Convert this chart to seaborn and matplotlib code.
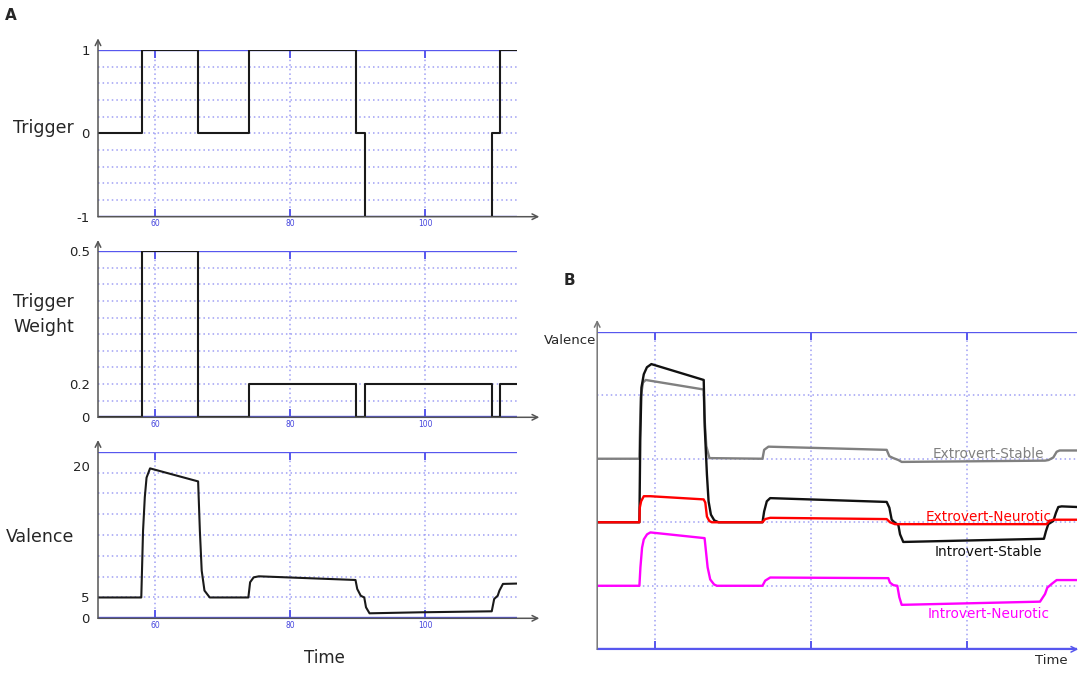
import numpy as np
import matplotlib
matplotlib.use("Agg")
import matplotlib.pyplot as plt
import seaborn as sns
from matplotlib.ticker import FixedLocator

sns.set_style("white")
plt.rcParams["font.family"] = ["DejaVu Sans"]

# ========== Data ==========
# Panel A, trigger signal (step changes)
trig_t = [51.5, 58.0, 66.4, 73.9, 89.8, 91.1, 110.0, 111.1, 113.6]
trig_v = [0, 1, 0, 1, 0, -1, 0, 1, 1]

# Panel A, trigger weight (step changes)
weight_t = [51.5, 58.0, 66.4, 73.9, 89.8, 91.1, 110.0, 111.1, 113.6]
weight_v = [0, 0.5, 0, 0.2, 0, 0.2, 0, 0.2, 0.2]

# Panel A, valence
val_t = [51.5, 57.92, 58.18, 58.44, 58.7, 59.22, 66.35, 66.61, 66.88, 67.29, 68.07,
         73.8, 74.06, 74.58, 75.36, 89.69, 89.95, 90.47, 90.99, 91.25, 91.77, 99.32,
         109.9, 110.26, 110.78, 111.04, 111.56, 113.6]
val_v = [5.0, 5.0, 12.6, 16.45, 18.7, 19.76, 18.27, 12.6, 8.07, 5.79, 5.0,
         5.0, 6.74, 7.3, 7.42, 7.0, 5.97, 5.2, 5.0, 2.64, 1.2, 1.44,
         1.68, 4.64, 5.2, 5.79, 6.55, 6.59]

# Panel B, four personality types (valence in grid units)
es_t = [52.64, 58.04, 58.2, 58.5, 58.85, 66.27, 66.35, 66.6, 67.0, 73.79, 74.0, 74.55,
        89.68, 90.02, 90.53, 91.17, 91.6, 109.94, 110.4, 111.0, 111.43, 111.8, 114.07]
es_v = [3.0, 3.0, 3.96, 4.2, 4.24, 4.09, 3.7, 3.2, 3.01, 3.0, 3.14, 3.19,
        3.14, 3.04, 3.01, 2.98, 2.95, 2.97, 2.98, 3.02, 3.11, 3.13, 3.13]

is_t = [52.64, 58.04, 58.15, 58.3, 58.6, 59.0, 59.57, 66.27, 66.4, 66.68, 66.89, 67.19,
        67.62, 68.17, 73.79, 74.0, 74.34, 74.77, 89.68, 90.02, 90.32, 90.75, 91.17,
        91.39, 91.8, 109.8, 110.06, 110.36, 111.0, 111.34, 111.64, 112.07, 114.07]
is_v = [2.0, 2.0, 3.3, 4.12, 4.33, 4.44, 4.49, 4.24, 3.5, 2.75, 2.33, 2.12,
        2.03, 2.0, 2.0, 2.17, 2.33, 2.38, 2.32, 2.23, 2.04, 1.99, 1.96,
        1.81, 1.69, 1.74, 1.86, 1.97, 2.02, 2.15, 2.24, 2.25, 2.24]

en_t = [52.64, 58.04, 58.09, 58.26, 58.6, 59.45, 66.26, 66.47, 66.68, 66.98, 67.3,
        73.79, 74.13, 74.77, 89.68, 90.1, 90.74, 110.15, 110.49, 111.0, 114.07]
en_v = [2.0, 2.0, 2.23, 2.33, 2.41, 2.41, 2.36, 2.31, 2.09, 2.02, 2.0,
        2.0, 2.05, 2.07, 2.05, 2.0, 1.97, 1.97, 2.02, 2.04, 2.04]

in_t = [52.64, 58.04, 58.17, 58.38, 58.6, 59.02, 59.45, 66.38, 66.55, 66.77, 67.1,
        67.6, 67.96, 73.79, 74.13, 74.77, 89.89, 90.1, 90.53, 91.04, 91.3, 91.6,
        109.3, 109.94, 110.23, 110.8, 111.43, 114.07]
in_v = [1.0, 1.0, 1.29, 1.6, 1.73, 1.81, 1.84, 1.75, 1.55, 1.29, 1.1,
        1.02, 1.0, 1.0, 1.08, 1.13, 1.12, 1.05, 1.01, 1.0, 0.82, 0.70,
        0.75, 0.87, 0.97, 1.03, 1.09, 1.09]

series_b = [
    ("Extrovert-Stable", es_t, es_v, "#808080", (102.7, 3.07)),
    ("Introvert-Stable", is_t, is_v, "#111111", (102.7, 1.53)),
    ("Extrovert-Neurotic", en_t, en_v, "#ff0000", (102.7, 2.08)),
    ("Introvert-Neurotic", in_t, in_v, "#ff00ff", (102.7, 0.56)),
]

# ========== Style ==========
BLUE = "#5757ee"
GRID = "#9f9ff4"
AXIS_GRAY = "#555555"
DOT = (0, (1, 2))
W, H = 1084, 677


def box(left, top, right, bottom):
    return [left / W, 1 - bottom / H, (right - left) / W, (bottom - top) / H]


def piecewise_scale(ax, vals, disp):
    fwd = lambda y: np.interp(y, vals, disp)
    inv = lambda d: np.interp(d, disp, vals)
    ax.set_yscale("function", functions=(fwd, inv))
    return inv


def decorate(ax, ylim, grid_y, yticks, ylabels, xlabels=True, arrow_top=1.07,
             arrow_right=1.054, xarrow_color=AXIS_GRAY, yarrow_color=AXIS_GRAY):
    ax.set_ylim(*ylim)
    for s in ax.spines.values():
        s.set_visible(False)
    ax.set_xticks([60, 80, 100])
    ax.set_xticklabels(["60", "80", "100"] if xlabels else [])
    ax.tick_params(axis="x", which="major", direction="in", top=True, bottom=True,
                   length=6, width=1.4, color=BLUE, labelsize=5.5, labelcolor="#4444dd", pad=2)
    ax.set_yticks(yticks)
    ax.set_yticklabels(ylabels)
    ax.yaxis.set_minor_locator(FixedLocator(grid_y))
    ax.yaxis.remove_overlapping_locs = False
    ax.tick_params(axis="y", which="both", length=0, labelsize=9.5, labelcolor="#222222", pad=6)
    ax.grid(which="major", axis="x", color=GRID, linestyle=DOT, lw=1.1)
    ax.grid(which="minor", axis="y", color=GRID, linestyle=DOT, lw=1.1)
    ax.set_axisbelow(True)
    ax.axhline(ylim[1], color=BLUE, lw=1.7, zorder=1)
    ax.annotate("", xy=(arrow_right, 0), xytext=(0, 0), xycoords="axes fraction",
                arrowprops=dict(arrowstyle="->", color=xarrow_color, lw=1.1,
                                shrinkA=0, shrinkB=0), annotation_clip=False)
    ax.axhline(ylim[0], color=BLUE, lw=1.7, zorder=1.5)
    ax.annotate("", xy=(0, arrow_top), xytext=(0, 0), xycoords="axes fraction",
                arrowprops=dict(arrowstyle="->", color=yarrow_color, lw=1.1,
                                shrinkA=0, shrinkB=0), annotation_clip=False)
    ax.set_xlabel("")
    ax.set_ylabel("")


fig = plt.figure(figsize=(W / 100, H / 100), dpi=100)

# ---------- Panel A: trigger ----------
ax1 = fig.add_axes(box(98, 50, 516.7, 216.7))
sns.lineplot(x=trig_t, y=trig_v, ax=ax1, color="#1a1a1a", lw=1.5,
             drawstyle="steps-post", estimator=None, sort=False, zorder=3)
ax1.set_xlim(51.5, 113.6)
decorate(ax1, (-1, 1), np.arange(-0.8, 0.81, 0.2), [1, 0, -1], ["1", "0", "-1"])

# ---------- Panel A: trigger weight ----------
ax2 = fig.add_axes(box(98, 251, 516.7, 417.3))
inv2 = piecewise_scale(ax2, [-1, 0, 0.2, 0.5, 1.5], [-10, 0, 2, 10, 36.67])
sns.lineplot(x=weight_t, y=weight_v, ax=ax2, color="#1a1a1a", lw=1.5,
             drawstyle="steps-post", estimator=None, sort=False, zorder=3)
ax2.set_xlim(51.5, 113.6)
decorate(ax2, (0, 0.5), inv2(np.arange(1, 10)), [0.5, 0.2, 0], ["0.5", "0.2", "0"],
         arrow_top=1.066)

# ---------- Panel A: valence ----------
ax3 = fig.add_axes(box(98, 451.7, 516.7, 618.3))
inv3 = piecewise_scale(ax3, [-20, 0, 5, 20, 60], [-4, 0, 1, 7.3, 24.1])
sns.lineplot(x=val_t, y=val_v, ax=ax3, color="#1a1a1a", lw=1.5,
             estimator=None, sort=False, zorder=3)
ax3.set_xlim(51.5, 113.6)
decorate(ax3, (0, float(inv3(8))), inv3(np.arange(1, 8)), [20, 5, 0], ["20", "5", "0"])

# ---------- Panel B ----------
axb = fig.add_axes(box(597.2, 331.7, 1077.3, 649.3))
for name, t, v, col, (lx, ly) in series_b:
    sns.lineplot(x=t, y=v, ax=axb, color=col, lw=1.7, estimator=None, sort=False, zorder=3)
    axb.text(lx, ly, name, color=col, fontsize=9.8, ha="center", va="center", zorder=4)
axb.set_xlim(52.64, 114.07)
decorate(axb, (0, 5), [1, 2, 3, 4], [], [], xlabels=False, arrow_top=1.037,
         arrow_right=1.002, xarrow_color=BLUE, yarrow_color="#777777")

# ---------- Texts ----------
fig.text(10.5 / W, 1 - 15 / H, "A", fontsize=11, fontweight="bold", ha="center", va="center")
fig.text(569 / W, 1 - 281 / H, "B", fontsize=11, fontweight="bold", ha="center", va="center")
fig.text(43.8 / W, 1 - 128 / H, "Trigger", fontsize=12.5, ha="center", va="center")
fig.text(43.4 / W, 1 - 314.5 / H, "Trigger\nWeight", fontsize=12.5, ha="center",
         va="center", linespacing=1.5)
fig.text(40.3 / W, 1 - 537.3 / H, "Valence", fontsize=12.5, ha="center", va="center")
fig.text(324.7 / W, 1 - 658 / H, "Time", fontsize=12, ha="center", va="center")
fig.text(596 / W, 1 - 341 / H, "Valence", fontsize=9.5, ha="right", va="center")
fig.text(1051 / W, 1 - 660 / H, "Time", fontsize=9.5, ha="center", va="center")

fig.savefig("out.png", dpi=100)
